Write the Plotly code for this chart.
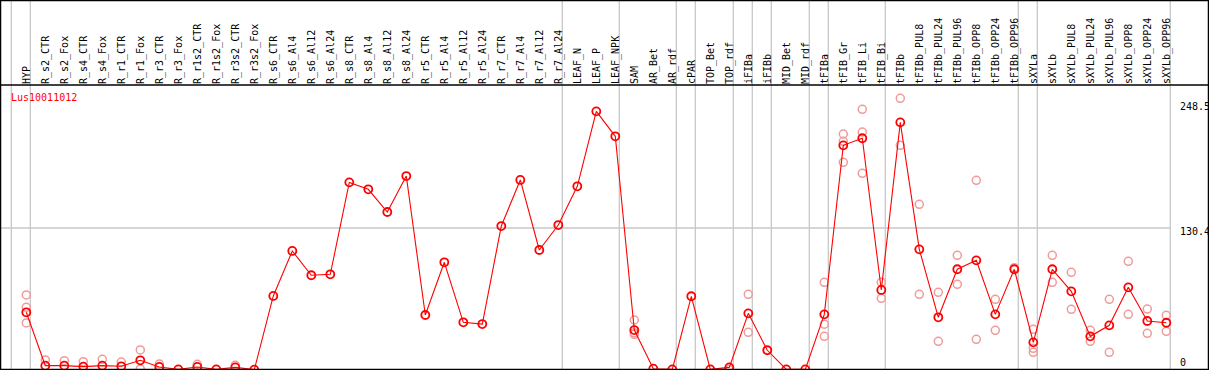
import plotly.graph_objects as go

categories = ["HYP", "R_s2_CTR", "R_s2_Fox", "R_s4_CTR", "R_s4_Fox", "R_r1_CTR", "R_r1_Fox",
              "R_r3_CTR", "R_r3_Fox", "R_r1s2_CTR", "R_r1s2_Fox", "R_r3s2_CTR", "R_r3s2_Fox",
              "R_s6_CTR", "R_s6_Al4", "R_s6_Al12", "R_s6_Al24", "R_s8_CTR", "R_s8_Al4",
              "R_s8_Al12", "R_s8_Al24", "R_r5_CTR", "R_r5_Al4", "R_r5_Al12", "R_r5_Al24",
              "R_r7_CTR", "R_r7_Al4", "R_r7_Al12", "R_r7_Al24", "LEAF_N", "LEAF_P", "LEAF_NPK",
              "SAM", "AR_Bet", "AR_rdf", "cPAR", "TOP_Bet", "TOP_rdf", "iFIBa", "iFIBb",
              "MID_Bet", "MID_rdf", "tFIBa", "tFIB_Gr", "tFIB_Li", "tFIB_Bi", "tFIBb",
              "tFIBb_PUL8", "tFIBb_PUL24", "tFIBb_PUL96", "tFIBb_OPP8", "tFIBb_OPP24",
              "tFIBb_OPP96", "sXYLa", "sXYLb", "sXYLb_PUL8", "sXYLb_PUL24", "sXYLb_PUL96",
              "sXYLb_OPP8", "sXYLb_OPP24", "sXYLb_OPP96"]

mean_values = [53.0, 4.0, 4.0, 3.1, 4.0, 3.4, 8.9, 2.8, 0.6, 2.8, 0.6, 2.4, 0.3,
               68.0, 109.3, 87.0, 87.9, 172.3, 165.9, 145.1, 178.1, 50.5, 98.9, 43.8, 42.2,
               132.2, 174.5, 110.2, 133.1, 168.7, 237.5, 214.6,
               36.7, 1.2, 0.6, 67.7, 0.6, 2.4, 52.0, 18.1, 0.6, 0.6,
               51.1, 206.3, 212.8, 73.5, 227.4, 110.8, 48.4, 92.5, 100.7, 51.1, 92.5,
               25.4, 92.5, 72.2, 30.9, 41.0, 75.9, 45.0, 43.4]

replicates = [[68.9, 57.6, 43.2], [9.2], [8.6], [7.6], [9.8], [7.3], [18.4, 1.0], [5.5], [],
              [5.2], [], [4.3], [],
              [], [], [], [], [], [], [], [], [], [], [], [], [], [], [], [],
              [], [], [],
              [45.9, 34.3, 32.8], [], [], [], [], [0.5], [69.5, 34.6], [18.6], [], [],
              [80.5, 42.0, 30.9], [216.7, 210.0, 190.7], [239.4, 218.5, 180.6], [80.5, 65.8],
              [249.5, 206.3], [152.1, 69.5], [71.3, 26.3], [105.3, 78.7], [174.2, 28.2],
              [64.9, 36.4], [94.0],
              [37.4, 19.9, 16.2], [105.3, 80.5], [89.7, 55.7], [36.4, 26.3], [64.9, 16.2],
              [99.8, 51.1], [56.0, 33.7], [50.2, 35.5]]

group_starts = [0, 1, 29, 32, 35, 36, 38, 39, 40, 42, 43, 46, 53, 54, 61]
y_ticks = [0, 130.4, 248.5]
gene_name = "Lus10011012"

W, H = 1209, 370
TOP = 85
px_per_cat = 19.0
x0 = -26.3 / px_per_cat
x1 = x0 + W / px_per_cat
y_scale = 1.089
y_max = (H - TOP) / y_scale

FONT = "DejaVu Sans Mono"
GRID = "#c8c8c8"

rx, ry = [], []
for i, reps in enumerate(replicates):
    for v in reps:
        rx.append(i)
        ry.append(v)

fig = go.Figure()
fig.add_trace(go.Scatter(
    x=rx, y=ry, mode="markers",
    marker=dict(symbol="circle-open", size=8, color="#f09a9a", line=dict(width=1.5)),
    hoverinfo="skip", showlegend=False, cliponaxis=True))
fig.add_trace(go.Scatter(
    x=list(range(len(categories))), y=mean_values, mode="lines+markers",
    line=dict(color="#ff0000", width=1.1),
    marker=dict(symbol="circle-open", size=8, color="#ff0000", line=dict(width=1.8)),
    showlegend=False, cliponaxis=True))

shapes = []
sep_offset = 15.0 / px_per_cat
top_paper = H / (H - TOP)
for g in group_starts:
    xs = g - sep_offset
    shapes.append(dict(type="line", xref="x", yref="paper", x0=xs, x1=xs, y0=0, y1=top_paper,
                       line=dict(color=GRID, width=1.3), layer="below"))
# horizontal grid at 130.4
shapes.append(dict(type="line", xref="paper", yref="y", x0=0,
                   x1=(61 - sep_offset - x0) / (x1 - x0), y0=130.4, y1=130.4,
                   line=dict(color=GRID, width=1.3), layer="below"))
# black line under labels
shapes.append(dict(type="line", xref="paper", yref="paper", x0=0, x1=1, y0=1, y1=1,
                   line=dict(color="black", width=1.5)))
# frame
shapes.append(dict(type="rect", xref="paper", yref="paper", x0=0.5 / W, x1=1 - 0.5 / W,
                   y0=0.5 / (H - TOP), y1=top_paper - 0.5 / (H - TOP),
                   line=dict(color="black", width=1.5)))

annotations = [dict(text=gene_name, xref="paper", yref="paper", x=9 / W,
                    y=(H - 97) / (H - TOP), xanchor="left", yanchor="middle",
                    showarrow=False, font=dict(family=FONT, size=10, color="red"))]
tick_shift = {0: 0, 130.4: -4, 248.5: -7}
for t in y_ticks:
    if t == 0:
        annotations.append(dict(text="0", xref="paper", yref="paper", x=1178 / W,
                                y=(H - 362) / (H - TOP), xanchor="left", yanchor="middle",
                                showarrow=False, font=dict(family=FONT, size=10, color="black")))
    else:
        annotations.append(dict(text=str(t), xref="paper", yref="y", x=1178 / W, y=t,
                                xanchor="left", yanchor="middle", yshift=tick_shift[t],
                                showarrow=False, font=dict(family=FONT, size=10, color="black")))

fig.update_layout(
    width=W, height=H,
    margin=dict(l=0, r=0, t=TOP, b=0, pad=0),
    paper_bgcolor="white", plot_bgcolor="white",
    xaxis=dict(range=[x0, x1], side="top", tickmode="array",
               tickvals=list(range(len(categories))), ticktext=categories,
               tickangle=-90, ticks="", showgrid=False, zeroline=False, showline=False,
               tickfont=dict(family=FONT, size=10, color="black")),
    yaxis=dict(range=[0, y_max], showgrid=False, zeroline=False, showline=False,
               showticklabels=False, ticks=""),
    shapes=shapes, annotations=annotations,
)
fig.write_html("out.html", config={"displayModeBar": False},
               post_script="document.body.style.margin='0';document.body.style.overflow='hidden';")
